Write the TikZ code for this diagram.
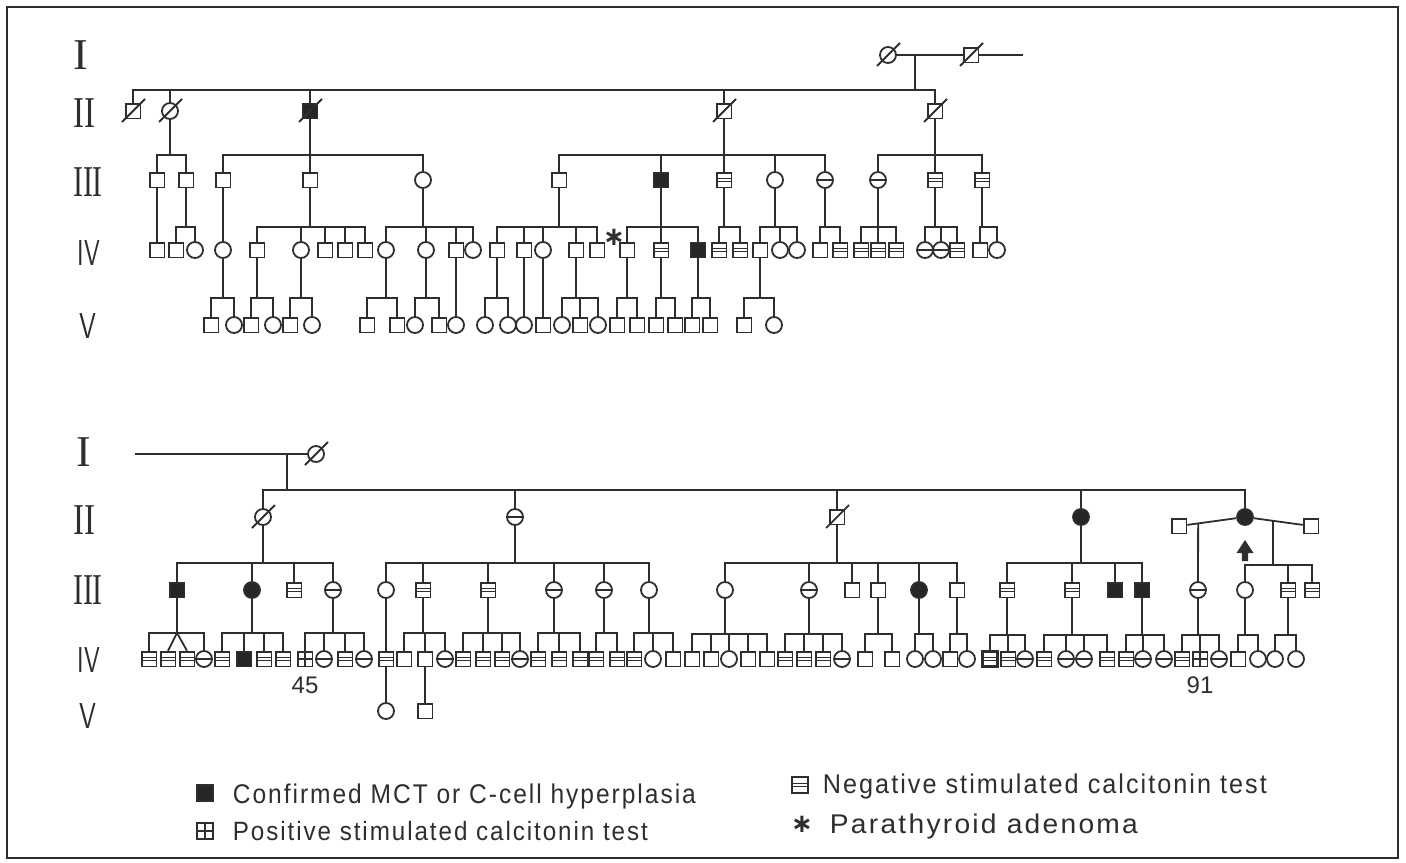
\documentclass[tikz,border=0pt]{standalone}
\usepackage{fontspec}
\usepackage{graphicx}
\usetikzlibrary{calc}
\newfontfamily\legfont[LetterSpace=8]{Liberation Sans}
\newfontfamily\numfont{Liberation Sans}
\newfontfamily\romanf{Liberation Serif}
\newfontfamily\symfont{DejaVu Sans}
\newcommand\romfont{\romanf\fontsize{22pt}{22pt}\selectfont}
\newcommand\romsfont{\sffamily\fontsize{18pt}{18pt}\selectfont}
\newcommand\famline[3]{%
  \coordinate (lvl) at (0,#2);
  \coordinate (pd) at (#1 |- lvl);
  \draw (#1) -- (pd);
  \foreach \c in {#3}{\draw (\c) |- (pd);}}
\newcommand\deceased[1]{\draw ($(#1.center)+(-11,11)$) -- ($(#1.center)+(12,-12)$);}
\tikzset{
  ind/.style={draw, inner sep=0pt, line width=0.9pt},
  psq/.style={ind, rectangle, minimum size=7.4pt},
  pci/.style={ind, circle, minimum size=8pt},
  psqf/.style={psq, fill=black!85},
  pcif/.style={pci, fill=black!85},
  psqn/.style={psq, path picture={
     \draw[line width=0.55pt] ([yshift=0.75pt]path picture bounding box.west) -- ([yshift=0.75pt]path picture bounding box.east);
     \draw[line width=0.55pt] ([yshift=-0.75pt]path picture bounding box.west) -- ([yshift=-0.75pt]path picture bounding box.east);}},
  pcin/.style={pci, path picture={
     \draw[line width=1.3pt] (path picture bounding box.west) -- (path picture bounding box.east);}},
  psqp/.style={psq, path picture={
     \draw[line width=0.7pt] (path picture bounding box.west) -- (path picture bounding box.east);
     \draw[line width=0.7pt] (path picture bounding box.north) -- (path picture bounding box.south);}},
  lbl/.style={inner sep=0pt},
  numlbl/.style={inner sep=0pt, font=\numfont\fontsize{12pt}{12pt}\selectfont},
}
\begin{document}
\begin{tikzpicture}[x=0.5pt, y=-0.5pt, line width=0.9pt, color=black!82]
\useasboundingbox (0,0) rectangle (1406,862);
\draw[line width=0.8pt] (7,7) rectangle (1398,858);

% ---------------- generation labels ----------------
\node[lbl] (tI)   at (81,55)  {\romfont I};
\node[lbl] (tII)  at (84,113) {\romfont\scalebox{0.75}[1]{II}};
\node[lbl] (tIII) at (88,182) {\romfont\scalebox{0.68}[1]{III}};
\node[lbl] (tIV)  at (89,253) {\romsfont\scalebox{0.7}[1]{IV}};
\node[lbl] (tV)   at (88,326) {\romsfont\scalebox{0.75}[1]{V}};
\node[lbl] (bI)   at (84,452) {\romfont I};
\node[lbl] (bII)  at (84,520) {\romfont\scalebox{0.75}[1]{II}};
\node[lbl] (bIII) at (88,590) {\romfont\scalebox{0.68}[1]{III}};
\node[lbl] (bIV)  at (89,660) {\romsfont\scalebox{0.7}[1]{IV}};
\node[lbl] (bV)   at (88,716) {\romsfont\scalebox{0.75}[1]{V}};

% ================= TOP PEDIGREE =================
\node[pci] (t1a) at (888,55) {};
\node[psq] (t1b) at (971,55) {};
\coordinate (t1e) at (1023,55);
\draw (t1a) -- (t1b) -- (t1e);
\coordinate (m1) at (915,55);
\deceased{t1a} \deceased{t1b}

% II
\node[psq]  (t2x133) at (133,111) {};
\node[pci]  (t2x170) at (170,111) {};
\node[psqf] (t2x310) at (310,111) {};
\node[psq]  (t2x724) at (724,111) {};
\node[psq]  (t2x935) at (935,111) {};
\deceased{t2x133} \deceased{t2x170} \deceased{t2x310} \deceased{t2x724} \deceased{t2x935}
\famline{m1}{90}{t2x133,t2x170,t2x310,t2x724,t2x935}

% III
\node[psq]  (t3x157) at (157,180) {};
\node[psq]  (t3x186) at (186,180) {};
\node[psq]  (t3x223) at (223,180) {};
\node[psq]  (t3x310) at (310,180) {};
\node[pci]  (t3x423) at (423,180) {};
\node[psq]  (t3x559) at (559,180) {};
\node[psqf] (t3x661) at (661,180) {};
\node[psqn] (t3x724) at (724,180) {};
\node[pci]  (t3x775) at (775,180) {};
\node[pcin] (t3x825) at (825,180) {};
\node[pcin] (t3x878) at (878,180) {};
\node[psqn] (t3x935) at (935,180) {};
\node[psqn] (t3x982) at (982,180) {};
\famline{t2x170}{155}{t3x157,t3x186}
\famline{t2x310}{155}{t3x223,t3x310,t3x423}
\famline{t2x724}{155}{t3x559,t3x661,t3x724,t3x775,t3x825}
\famline{t2x935}{155}{t3x878,t3x935,t3x982}

% IV
\node[psq]  (t4x157) at (157,250) {};
\node[psq]  (t4x176) at (176,250) {};
\node[pci]  (t4x195) at (195,250) {};
\node[pci]  (t4x223) at (223,250) {};
\node[psq]  (t4x257) at (257,250) {};
\node[pci]  (t4x301) at (301,250) {};
\node[psq]  (t4x325) at (325,250) {};
\node[psq]  (t4x345) at (345,250) {};
\node[psq]  (t4x365) at (365,250) {};
\node[pci]  (t4x386) at (386,250) {};
\node[pci]  (t4x426) at (426,250) {};
\node[psq]  (t4x456) at (456,250) {};
\node[pci]  (t4x473) at (473,250) {};
\node[psq]  (t4x497) at (497,250) {};
\node[psq]  (t4x524) at (524,250) {};
\node[pci]  (t4x543) at (543,250) {};
\node[psq]  (t4x576) at (576,250) {};
\node[psq]  (t4x597) at (597,250) {};
\node[psq]  (t4x627) at (627,250) {};
\node[psqn] (t4x661) at (661,250) {};
\node[psqf] (t4x698) at (698,250) {};
\node[psqn] (t4x719) at (719,250) {};
\node[psqn] (t4x740) at (740,250) {};
\node[psq]  (t4x760) at (760,250) {};
\node[pci]  (t4x780) at (780,250) {};
\node[pci]  (t4x797) at (797,250) {};
\node[psq]  (t4x820) at (820,250) {};
\node[psqn] (t4x840) at (840,250) {};
\node[psqn] (t4x861) at (861,250) {};
\node[psqn] (t4x878) at (878,250) {};
\node[psqn] (t4x896) at (896,250) {};
\node[pcin] (t4x925) at (925,250) {};
\node[pcin] (t4x941) at (941,250) {};
\node[psqn] (t4x957) at (957,250) {};
\node[psq]  (t4x980) at (980,250) {};
\node[pci]  (t4x997) at (997,250) {};
\draw (t3x157) -- (t4x157);
\famline{t3x186}{227}{t4x176,t4x195}
\draw (t3x223) -- (t4x223);
\famline{t3x310}{227}{t4x257,t4x301,t4x325,t4x345,t4x365}
\famline{t3x423}{227}{t4x386,t4x426,t4x456,t4x473}
\famline{t3x559}{227}{t4x497,t4x524,t4x543,t4x576,t4x597}
\famline{t3x661}{227}{t4x627,t4x661,t4x698}
\famline{t3x724}{227}{t4x719,t4x740}
\famline{t3x775}{227}{t4x760,t4x780,t4x797}
\famline{t3x825}{227}{t4x820,t4x840}
\famline{t3x878}{227}{t4x861,t4x878,t4x896}
\famline{t3x935}{227}{t4x925,t4x941,t4x957}
\famline{t3x982}{227}{t4x980,t4x997}
\node[lbl] (ast) at (614,237) {\symfont\bfseries\fontsize{13pt}{13pt}\selectfont ∗};

% V
\node[psq] (t5x211) at (211,325) {};
\node[pci] (t5x234) at (234,325) {};
\node[psq] (t5x251) at (251,325) {};
\node[pci] (t5x273) at (273,325) {};
\node[psq] (t5x290) at (290,325) {};
\node[pci] (t5x312) at (312,325) {};
\node[psq] (t5x367) at (367,325) {};
\node[psq] (t5x397) at (397,325) {};
\node[pci] (t5x415) at (415,325) {};
\node[psq] (t5x439) at (439,325) {};
\node[pci] (t5x456) at (456,325) {};
\node[pci] (t5x485) at (485,325) {};
\node[pci] (t5x508) at (508,325) {};
\node[pci] (t5x524) at (524,325) {};
\node[psq] (t5x543) at (543,325) {};
\node[pci] (t5x562) at (562,325) {};
\node[psq] (t5x580) at (580,325) {};
\node[pci] (t5x598) at (598,325) {};
\node[psq] (t5x617) at (617,325) {};
\node[psq] (t5x637) at (637,325) {};
\node[psq] (t5x656) at (656,325) {};
\node[psq] (t5x675) at (675,325) {};
\node[psq] (t5x692) at (692,325) {};
\node[psq] (t5x710) at (710,325) {};
\node[psq] (t5x744) at (744,325) {};
\node[pci] (t5x774) at (774,325) {};
\famline{t4x223}{298}{t5x211,t5x234}
\famline{t4x257}{298}{t5x251,t5x273}
\famline{t4x301}{298}{t5x290,t5x312}
\famline{t4x386}{298}{t5x367,t5x397}
\famline{t4x426}{298}{t5x415,t5x439}
\draw (t4x456) -- (t5x456);
\famline{t4x497}{298}{t5x485,t5x508}
\draw (t4x524) -- (t5x524);
\draw (t4x543) -- (t5x543);
\famline{t4x576}{298}{t5x562,t5x580,t5x598}
\famline{t4x627}{298}{t5x617,t5x637}
\famline{t4x661}{298}{t5x656,t5x675}
\famline{t4x698}{298}{t5x692,t5x710}
\famline{t4x760}{298}{t5x744,t5x774}

% ================= BOTTOM PEDIGREE =================
\coordinate (b1s) at (135,454);
\node[pci] (b1a) at (316,454) {};
\draw (b1s) -- (b1a);
\coordinate (m2) at (287,454);
\deceased{b1a}

% II
\node[pci]  (b2x263)  at (263,517) {};
\node[pcin] (b2x515)  at (515,517) {};
\node[psq]  (b2x837)  at (837,517) {};
\node[pcif] (b2x1081) at (1081,517) {};
\node[pcif] (b2x1245) at (1245,517) {};
\node[psq]  (b2x1179) at (1179,526) {};
\node[psq]  (b2x1311) at (1311,526) {};
\deceased{b2x263} \deceased{b2x837}
\famline{m2}{490}{b2x263,b2x515,b2x837,b2x1081,b2x1245}
\draw (b2x1179) -- (b2x1245) -- (b2x1311);
\coordinate (mL) at ($(b2x1179)!0.29!(b2x1245)$);
\coordinate (mR) at ($(b2x1245)!0.42!(b2x1311)$);
\fill (1245,540) -- (1253.5,553) -- (1248.2,553) -- (1248.2,561) -- (1241.8,561) -- (1241.8,553) -- (1236.5,553) -- cycle;

% III
\node[psqf] (b3x177)  at (177,590) {};
\node[pcif] (b3x252)  at (252,590) {};
\node[psqn] (b3x294)  at (294,590) {};
\node[pcin] (b3x333)  at (333,590) {};
\node[pci]  (b3x386)  at (386,590) {};
\node[psqn] (b3x423)  at (423,590) {};
\node[psqn] (b3x488)  at (488,590) {};
\node[pcin] (b3x554)  at (554,590) {};
\node[pcin] (b3x604)  at (604,590) {};
\node[pci]  (b3x649)  at (649,590) {};
\node[pci]  (b3x725)  at (725,590) {};
\node[pcin] (b3x809)  at (809,590) {};
\node[psq]  (b3x852)  at (852,590) {};
\node[psq]  (b3x878)  at (878,590) {};
\node[pcif] (b3x919)  at (919,590) {};
\node[psq]  (b3x957)  at (957,590) {};
\node[psqn] (b3x1007) at (1007,590) {};
\node[psqn] (b3x1072) at (1072,590) {};
\node[psqf] (b3x1115) at (1115,590) {};
\node[psqf] (b3x1142) at (1142,590) {};
\node[pcin] (b3x1198) at (1198,590) {};
\node[pci]  (b3x1245) at (1245,590) {};
\node[psqn] (b3x1288) at (1288,590) {};
\node[psqn] (b3x1312) at (1312,590) {};
\famline{b2x263}{563}{b3x177,b3x252,b3x294,b3x333}
\famline{b2x515}{563}{b3x386,b3x423,b3x488,b3x554,b3x604,b3x649}
\famline{b2x837}{563}{b3x725,b3x809,b3x852,b3x878,b3x919,b3x957}
\famline{b2x1081}{563}{b3x1007,b3x1072,b3x1115,b3x1142}
\draw (mL) -- (b3x1198);
\famline{mR}{565}{b3x1245,b3x1288,b3x1312}

% IV
\node[psqn] (b4x149)  at (149,659) {};
\node[psqn] (b4x168)  at (168,659) {};
\node[psqn] (b4x187)  at (187,659) {};
\node[pcin] (b4x204)  at (204,659) {};
\node[psqn] (b4x222)  at (222,659) {};
\node[psqf] (b4x244)  at (244,659) {};
\node[psqn] (b4x264)  at (264,659) {};
\node[psqn] (b4x283)  at (283,659) {};
\node[psqp] (b4x305)  at (305,659) {};
\node[pcin] (b4x324)  at (324,659) {};
\node[psqn] (b4x345)  at (345,659) {};
\node[pcin] (b4x364)  at (364,659) {};
\node[psqn] (b4x386)  at (386,659) {};
\node[psq]  (b4x404)  at (404,659) {};
\node[psq]  (b4x425)  at (425,659) {};
\node[pcin] (b4x445)  at (445,659) {};
\node[psqn] (b4x463)  at (463,659) {};
\node[psqn] (b4x483)  at (483,659) {};
\node[psqn] (b4x502)  at (502,659) {};
\node[pcin] (b4x520)  at (520,659) {};
\node[psqn] (b4x538)  at (538,659) {};
\node[psqn] (b4x559)  at (559,659) {};
\node[psqn] (b4x580)  at (580,659) {};
\node[psqn] (b4x596)  at (596,659) {};
\node[psqn] (b4x617)  at (617,659) {};
\node[psqn] (b4x634)  at (634,659) {};
\node[pci]  (b4x653)  at (653,659) {};
\node[psq]  (b4x673)  at (673,659) {};
\node[psq]  (b4x692)  at (692,659) {};
\node[psq]  (b4x711)  at (711,659) {};
\node[pci]  (b4x729)  at (729,659) {};
\node[psq]  (b4x748)  at (748,659) {};
\node[psq]  (b4x767)  at (767,659) {};
\node[psqn] (b4x785)  at (785,659) {};
\node[psqn] (b4x804)  at (804,659) {};
\node[psqn] (b4x823)  at (823,659) {};
\node[pcin] (b4x842)  at (842,659) {};
\node[psq]  (b4x865)  at (865,659) {};
\node[psq]  (b4x892)  at (892,659) {};
\node[pci]  (b4x915)  at (915,659) {};
\node[pci]  (b4x933)  at (933,659) {};
\node[psq]  (b4x950)  at (950,659) {};
\node[pci]  (b4x967)  at (967,659) {};
\node[psqn, line width=1.4pt] (b4x990) at (990,659) {};
\node[psqn] (b4x1008) at (1008,659) {};
\node[pcin] (b4x1025) at (1025,659) {};
\node[psqn] (b4x1044) at (1044,659) {};
\node[pcin] (b4x1066) at (1066,659) {};
\node[pcin] (b4x1084) at (1084,659) {};
\node[psqn] (b4x1107) at (1107,659) {};
\node[psqn] (b4x1126) at (1126,659) {};
\node[pcin] (b4x1143) at (1143,659) {};
\node[pcin] (b4x1164) at (1164,659) {};
\node[psqn] (b4x1182) at (1182,659) {};
\node[psqp] (b4x1200) at (1200,659) {};
\node[pcin] (b4x1219) at (1219,659) {};
\node[psq]  (b4x1238) at (1238,659) {};
\node[pci]  (b4x1258) at (1258,659) {};
\node[pci]  (b4x1275) at (1275,659) {};
\node[pci]  (b4x1296) at (1296,659) {};

% twins family
\coordinate (lvl) at (0,633);
\coordinate (tw) at (b3x177 |- lvl);
\draw (b3x177) -- (tw);
\draw (b4x149) |- (tw);
\draw (b4x204) |- (tw);
\draw (b4x168.north) -- (tw) -- (b4x187.north);

\famline{b3x252}{633}{b4x222,b4x244,b4x264,b4x283}
\famline{b3x333}{633}{b4x305,b4x324,b4x345,b4x364}
\draw (b3x386) -- (b4x386);
\famline{b3x423}{633}{b4x404,b4x425,b4x445}
\famline{b3x488}{633}{b4x463,b4x483,b4x502,b4x520}
\famline{b3x554}{633}{b4x538,b4x559,b4x580}
\famline{b3x604}{633}{b4x596,b4x617}
\famline{b3x649}{633}{b4x634,b4x653,b4x673}
\famline{b3x725}{634}{b4x692,b4x711,b4x729,b4x748,b4x767}
\famline{b3x809}{634}{b4x785,b4x804,b4x823,b4x842}
\famline{b3x878}{634}{b4x865,b4x892}
\famline{b3x919}{634}{b4x915,b4x933}
\famline{b3x957}{634}{b4x950,b4x967}
\famline{b3x1007}{635}{b4x990,b4x1008,b4x1025}
\famline{b3x1072}{635}{b4x1044,b4x1066,b4x1084,b4x1107}
\famline{b3x1142}{635}{b4x1126,b4x1143,b4x1164}
\famline{b3x1198}{635}{b4x1182,b4x1200,b4x1219}
\famline{b3x1245}{635}{b4x1238,b4x1258}
\famline{b3x1288}{635}{b4x1275,b4x1296}

\node[numlbl] (n45) at (305,685) {45};
\node[numlbl] (n91) at (1200,685) {91};

% V
\node[pci] (b5x386) at (386,711) {};
\node[psq] (b5x425) at (425,711) {};
\draw (b4x386) -- (b5x386);
\draw (b4x425) -- (b5x425);

% ================= LEGEND =================
\node[psqf, minimum size=8pt] (lg1) at (205,793) {};
\node[anchor=base west, inner sep=0pt] (lt1) at (232,803)
  {\resizebox{231.5pt}{9.8pt}{\legfont Confirmed MCT or C-cell hyperplasia}};
\node[psqp, minimum size=8pt] (lg2) at (205,831) {};
\node[anchor=base west, inner sep=0pt] (lt2) at (232,840)
  {\resizebox{207.5pt}{9.6pt}{\legfont Positive stimulated calcitonin test}};
\node[psqn, minimum size=8pt] (lg3) at (800,785) {};
\node[anchor=base west, inner sep=0pt] (lt3) at (822,793)
  {\resizebox{222pt}{9.8pt}{\legfont Negative stimulated calcitonin test}};
\node[lbl] (lg4) at (802,824) {\symfont\bfseries\fontsize{13pt}{13pt}\selectfont ∗};
\node[anchor=base west, inner sep=0pt] (lt4) at (829,833)
  {\resizebox{154pt}{9.8pt}{\legfont Parathyroid adenoma}};
\end{tikzpicture}
\end{document}
